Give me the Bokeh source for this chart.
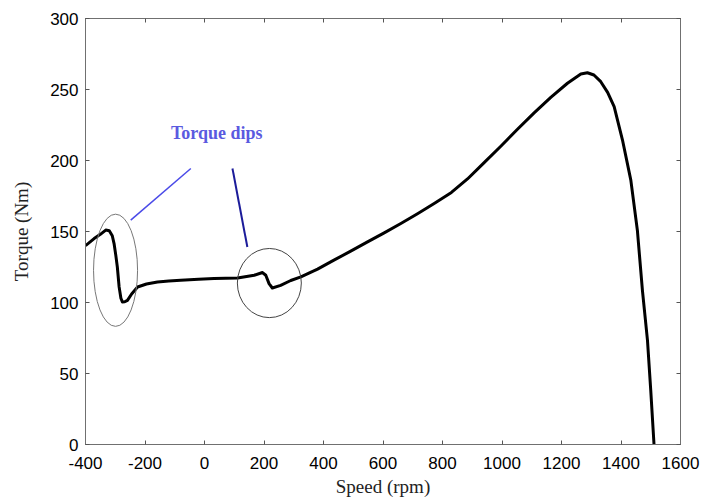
from bokeh.plotting import figure
from bokeh.models import Range1d, LinearAxis, FixedTicker, Label
from bokeh.embed import file_html
from bokeh.resources import INLINE

# --- data ---
speed_rpm = [-400, -371, -350, -332, -320, -310, -304, -298, -293, -287, -281, -276,
             -268, -259, -245, -225, -195, -158, -120, -80, -20, 32, 111, 167, 195,
             206, 217, 228, 256, 290, 324, 380, 435, 490, 548, 604, 660, 716, 772,
             830, 884, 940, 996, 1052, 1108, 1164, 1220, 1265, 1287, 1309, 1332,
             1355, 1377, 1405, 1433, 1455, 1472, 1489, 1500, 1511]
torque_nm = [140, 145, 148, 151, 150.5, 147, 141.5, 133, 125, 111, 103, 100.4,
             100.5, 101.5, 106, 110.9, 113, 114.5, 115.2, 115.7, 116.3, 116.9, 117.2,
             119.2, 121.1, 119.2, 113.3, 110.2, 112.1, 115.5, 118, 123.5, 129.8, 136,
             142.7, 149, 155.6, 162.5, 169.7, 177.5, 187, 198.5, 210, 222, 233.5,
             244.5, 254.4, 260.9, 261.8, 260.2, 255.5, 248, 237.9, 214.4, 186.2,
             150.9, 108.6, 73.3, 38.1, 0]
x_ticks = [-400, -200, 0, 200, 400, 600, 800, 1000, 1200, 1400, 1600]
x_tick_labels = ["-400", "-200", "0", "200", "400", "600", "800", "1000", "1200",
                 "1400", "1600"]
y_ticks = [0, 50, 100, 150, 200, 250, 300]
annotation_text = "Torque dips"

# dip regions (ellipse centre / size, data units)
dip_x = [-299, 218]
dip_y = [122.7, 113.7]
dip_w = [148, 215]
dip_h = [79, 48.7]

p = figure(width=700, height=502, output_backend="svg", toolbar_location=None,
           x_range=Range1d(-400, 1600), y_range=Range1d(0, 300),
           min_border_left=85, min_border_right=20, min_border_top=18,
           min_border_bottom=58, background_fill_color="white",
           border_fill_color="white")
p.grid.visible = False
p.outline_line_color = "#707070"
p.outline_line_width = 1

def style_axis(ax, ticks, labels=True):
    ax.ticker = FixedTicker(ticks=ticks)
    ax.axis_line_color = "#707070"
    ax.major_tick_line_color = "#555555"
    ax.major_tick_in = 4
    ax.major_tick_out = 0
    ax.minor_tick_line_color = None
    if labels:
        ax.major_label_text_font = "Liberation Sans"
        ax.major_label_text_font_size = "17px"
        ax.major_label_text_color = "#000000"
    else:
        ax.major_label_text_font_size = "0px"
        ax.major_label_standoff = 0

style_axis(p.xaxis[0], x_ticks)
style_axis(p.yaxis[0], y_ticks)
p.xaxis[0].major_label_overrides = dict(zip(x_ticks, x_tick_labels))
p.xaxis[0].major_label_standoff = 12
p.yaxis[0].major_label_standoff = 7
p.xaxis[0].axis_label = "Speed (rpm)"
p.yaxis[0].axis_label = "Torque (Nm)"
for ax in (p.xaxis[0], p.yaxis[0]):
    ax.axis_label_text_font = "Liberation Serif"
    ax.axis_label_text_font_size = "19px"
    ax.axis_label_text_font_style = "normal"
    ax.axis_label_text_color = "#222222"
p.xaxis[0].axis_label_standoff = 4
p.yaxis[0].axis_label_standoff = 15

top_ax = LinearAxis()
style_axis(top_ax, x_ticks, labels=False)
right_ax = LinearAxis()
style_axis(right_ax, y_ticks, labels=False)
p.add_layout(top_ax, "above")
p.add_layout(right_ax, "right")

# curve
p.line(speed_rpm, torque_nm, line_color="black", line_width=3, line_join="round")

# ellipses around the dips
p.ellipse(x=dip_x, y=dip_y, width=dip_w, height=dip_h, fill_color=None,
          line_color=["#777777", "#444444"], line_width=1)

# pointer lines
p.line([-46, -248], [194.4, 158], line_color="#4a4ae8", line_width=1.5)
p.line([94, 144], [194.4, 139.1], line_color="#1c1c9a", line_width=2)

p.add_layout(Label(x=41, y=219.3, text=annotation_text, text_align="center",
                   text_baseline="middle", text_font="Liberation Serif",
                   text_font_size="18px", text_font_style="bold",
                   text_color="#5a5ae0"))

open("out.html", "w").write(file_html(p, INLINE))
